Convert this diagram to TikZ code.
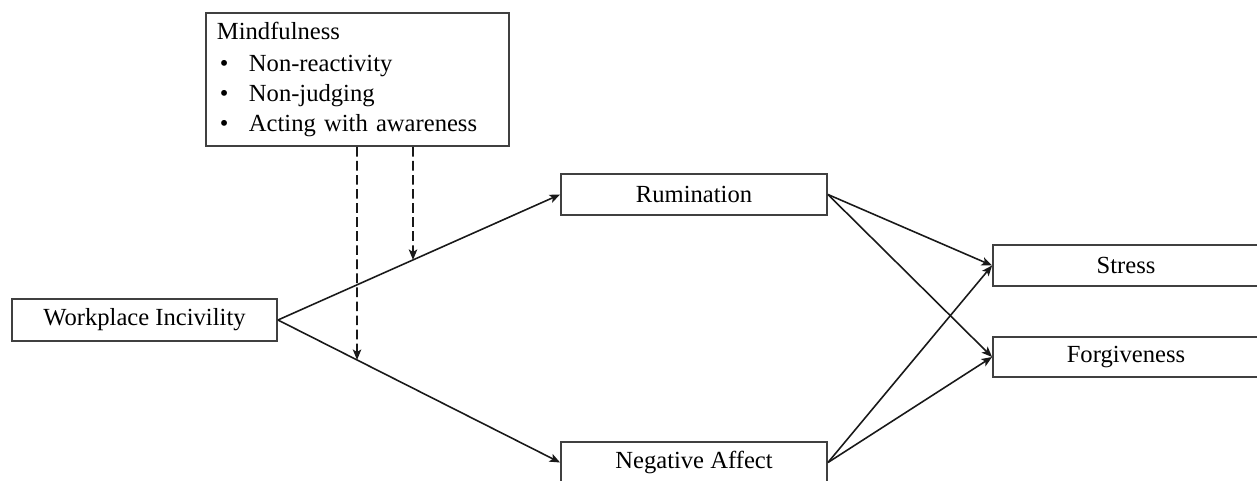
\documentclass[tikz,border=0pt]{standalone}
\usepackage{fontspec}
\setmainfont{Liberation Serif}
\usetikzlibrary{arrows.meta}
\begin{document}
\begin{tikzpicture}[x=0.02cm, y=-0.02cm,
  box/.style={draw=black!75, line width=1.1pt, minimum width=5.32cm, minimum height=0.82cm, inner sep=0pt, font=\fontsize{14}{17}\selectfont},
  link/.style={-{Stealth[length=2.1mm, width=1.7mm, inset=0.5mm]}, line width=0.9pt, black!90},
  modlink/.style={link, dash pattern=on 5.5pt off 2.5pt}]
 \useasboundingbox (0,0) rectangle (1257,480);
 \node[box, anchor=north west, text width=5.62cm, inner xsep=0.22cm, minimum height=2.66cm, align=left] (mind) at (205,12)
  {\vspace{0.05cm}Mindfulness\\
   \makebox[0.64cm][l]{\hspace{0.06cm}\textbullet}Non-reactivity\\
   \makebox[0.64cm][l]{\hspace{0.06cm}\textbullet}Non-judging\\
   \makebox[0.64cm][l]{\hspace{0.06cm}\textbullet}Acting with awareness};
 \node[box, minimum width=5.3cm, minimum height=0.84cm] (wi) at (144.5,320) {Workplace Incivility};
 \node[box] (rum) at (694,194.5) {Rumination};
 \node[box] (na) at (694,462.5) {Negative Affect};
 \node[box] (str) at (1126,265.5) {Stress};
 \node[box, minimum height=0.8cm] (forg) at (1126,357) {Forgiveness};
 % paths
 \draw[link] (wi.east) -- (rum.west);
 \draw[link] (wi.east) -- (na.west);
 \foreach \src in {rum,na}
  \foreach \dst in {str,forg}
   \draw[link] (\src.east) -- (\dst.west);
 % moderation
 \coordinate (cR) at (413,0); \coordinate (cRb) at (413,480);
 \coordinate (cN) at (357,0); \coordinate (cNb) at (357,480);
 \draw[modlink] (mind.south -| cR) -- (intersection of wi.east--rum.west and cR--cRb);
 \draw[modlink] (mind.south -| cN) -- (intersection of wi.east--na.west and cN--cNb);
\end{tikzpicture}
\end{document}
